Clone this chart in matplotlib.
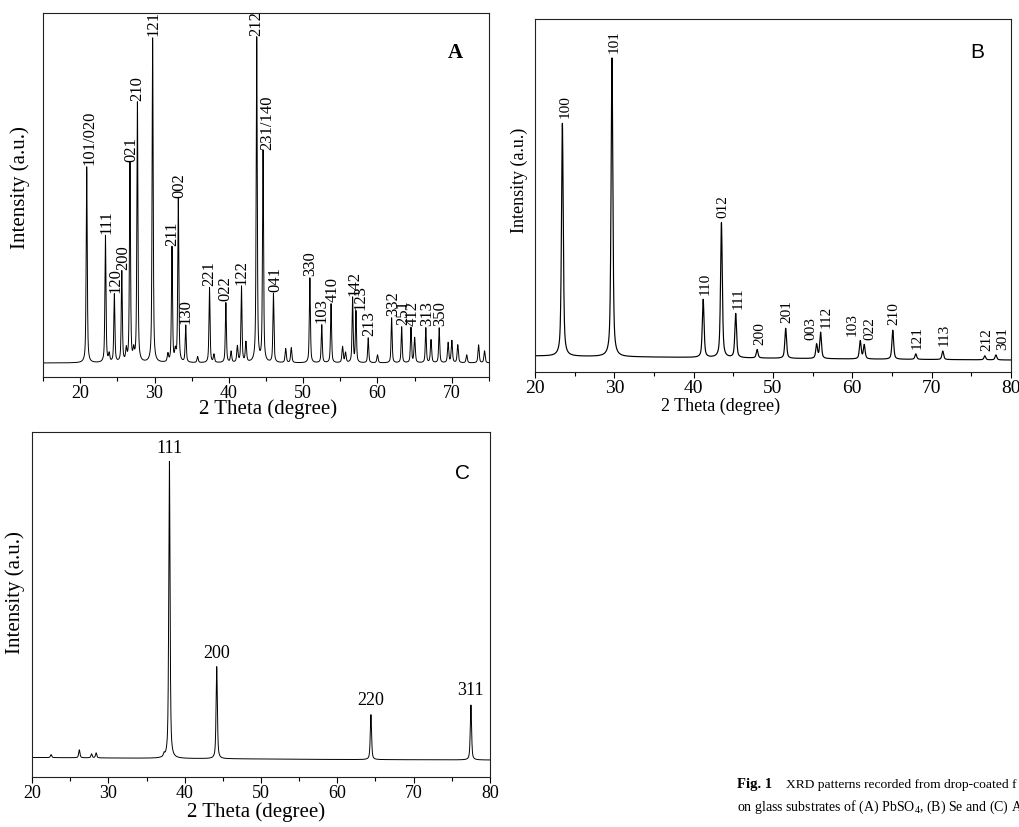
import numpy as np
import matplotlib
matplotlib.use("Agg")
import matplotlib.pyplot as plt
from matplotlib.ticker import MultipleLocator

plt.rcParams['font.family'] = ['Liberation Serif', 'DejaVu Serif']
plt.rcParams['mathtext.fontset'] = 'custom'
plt.rcParams['mathtext.rm'] = 'Liberation Serif'
plt.rcParams['mathtext.bf'] = 'Liberation Serif:bold'

# ---------------- Panel A : PbSO4 ----------------
a_pos = [20.88, 23.4, 24.6, 25.6, 26.7, 27.7, 29.75, 32.35, 33.2, 34.2, 37.4, 39.6,
         41.7, 43.75, 44.6, 46.0, 50.9, 52.5, 53.75, 56.65, 57.1, 58.75, 61.9,
         63.25, 64.5, 66.5, 68.3]
a_height = [196, 127, 68, 91, 199, 260, 325, 115, 163, 37, 75, 60,
            76, 325, 211, 69, 85, 38, 59, 65, 51, 25, 45,
            36, 35, 35, 35]
a_labels = ['101/020', '111', '120', '200', '021', '210', '121', '211', '002', '130',
            '221', '022', '122', '212', '231/140', '041', '330', '103', '410', '142',
            '123', '213', '332', '251', '412', '313', '350']
a_minor_pos = [23.9, 26.2, 27.2, 31.8, 32.8, 35.8, 38.0, 40.3, 41.15, 42.3, 47.65,
               48.4, 55.3, 55.7, 60.0, 65.0, 67.2, 69.5, 70.0, 70.8, 72.0, 73.6, 74.4]
a_minor_height = [8, 12, 10, 8, 10, 6, 8, 11, 16, 20, 14,
                  15, 16, 10, 8, 25, 23, 20, 22, 18, 8, 18, 12]

# ---------------- Panel B : Se ----------------
b_pos = [23.45, 29.7, 41.2, 43.5, 45.3, 48.0, 51.6, 55.5, 56.0, 61.0, 61.5, 65.1,
         68.0, 71.4, 76.7, 78.1]
b_height = [233, 299, 58, 135, 44, 8.5, 30, 14, 26, 18, 14, 29, 5.5, 8.5, 4, 5]
b_labels = ['100', '101', '110', '012', '111', '200', '201', '003', '112', '103',
            '022', '210', '121', '113', '212', '301']
b_base_x = [20, 40, 60, 80]
b_base_y = [4, 2.5, 1, 0]

# ---------------- Panel C ----------------
c_pos = [38.0, 44.2, 64.4, 77.5]
c_height = [297, 92, 45, 55]
c_labels = ['111', '200', '220', '311']
c_minor_pos = [22.5, 26.2, 27.8, 28.4, 37.3]
c_minor_height = [3, 8, 4, 5, 3]
c_base_x = [20, 40, 60, 80]
c_base_y = [2.5, 1.5, 0.5, 0]


def pattern(x, pos, hgt, fwhm, eta=0.6):
    y = np.zeros_like(x)
    for p, h in zip(pos, hgt):
        d = (x - p) / (fwhm / 2.0)
        y += h * (eta / (1 + d ** 2) + (1 - eta) * np.exp(-np.log(2) * d ** 2))
    return y


W, H = 1020, 827
fig = plt.figure(figsize=(W / 100, H / 100), dpi=100)


def axes_px(l, t, r, b):
    return fig.add_axes([l / W, 1 - b / H, (r - l) / W, (b - t) / H])


def style(ax, xlim, ylim, tick_fs, tick_weight='normal'):
    ax.set_xlim(*xlim)
    ax.set_ylim(*ylim)
    ax.set_yticks([])
    ax.xaxis.set_major_locator(MultipleLocator(10))
    ax.xaxis.set_minor_locator(MultipleLocator(5))
    ax.tick_params(axis='x', which='major', direction='out', length=4, width=0.8,
                   pad=2, labelsize=tick_fs)
    ax.tick_params(axis='x', which='minor', direction='out', length=3, width=0.8)
    for lab in ax.get_xticklabels():
        lab.set_fontweight(tick_weight)
    for s in ax.spines.values():
        s.set_linewidth(0.8)
        s.set_color('#222222')


# ---- A ----
axA = axes_px(43, 13, 489, 377)
xA = np.linspace(15, 75, 7000)
yA = pattern(xA, a_pos, a_height, 0.17) + pattern(xA, a_minor_pos, a_minor_height, 0.2)
axA.plot(xA, yA, color='black', lw=0.7)
style(axA, (15, 75), (-14, 350), 13)
a_dx = [0.35, 0.1, 0.1, 0.2, 0.15, 0.0, 0.1, 0.0, 0.1, 0.0, 0.0, 0.0, 0.0, 0.0,
        0.55, 0.2, 0.0, 0.0, 0.2, 0.2, 0.65, 0.2, 0.2, 0.2, 0.2, 0.2, 0.2]
for p, h, t, dx in zip(a_pos, a_height, a_labels, a_dx):
    axA.text(p + dx, h + 2, t, rotation=90, ha='center', va='bottom', fontsize=12)
axA.text(0.924, 0.89, 'A', transform=axA.transAxes, fontsize=15, fontweight='bold',
         ha='center', va='center')
axA.set_xlabel('2 Theta (degree)', fontsize=15)
axA.xaxis.set_label_coords(0.504, -0.062)
axA.set_ylabel('Intensity (a.u.)', fontsize=15)
axA.yaxis.set_label_coords(-0.029, 0.52)

# ---- B ----
axB = axes_px(535, 19, 1011, 372)
xB = np.linspace(20, 80, 7000)
yB = pattern(xB, b_pos, b_height, 0.26) + np.interp(xB, b_base_x, b_base_y)
axB.plot(xB, yB, color='black', lw=0.85)
style(axB, (20, 80), (-12, 341), 14)
b_dx = [0.33, 0.3, 0.3, 0.2, 0.3, 0.33, 0.2, -0.75, 0.68, -1.0, 0.76, 0.1, 0.2,
        0.2, 0.2, 0.8]
for p, h, t, dx in zip(b_pos, b_height, b_labels, b_dx):
    base = np.interp(p, b_base_x, b_base_y)
    axB.text(p + dx, h + base + 5, t, rotation=90, ha='center', va='bottom',
             fontsize=11)
axB.text(0.929, 0.904, 'B', transform=axB.transAxes, fontsize=15,
         family='Liberation Sans', ha='center', va='center')
axB.set_xlabel('2 Theta (degree)', fontsize=13)
axB.xaxis.set_label_coords(0.39, -0.072)
axB.set_ylabel('Intensity (a.u.)', fontsize=13)
axB.yaxis.set_label_coords(-0.0147, 0.544)

# ---- C ----
axC = axes_px(32, 432, 490, 777)
xC = np.linspace(20, 80, 7000)
yC = (pattern(xC, c_pos, c_height, 0.2) + pattern(xC, c_minor_pos, c_minor_height, 0.2)
      + np.interp(xC, c_base_x, c_base_y))
axC.plot(xC, yC, color='black', lw=0.7)
style(axC, (20, 80), (-17, 328), 13)
for p, h, t in zip(c_pos, c_height, c_labels):
    axC.text(p, h + 6, t, ha='center', va='bottom', fontsize=13)
axC.text(0.939, 0.881, 'C', transform=axC.transAxes, fontsize=15,
         family='Liberation Sans', ha='center', va='center')
axC.set_xlabel('2 Theta (degree)', fontsize=15)
axC.xaxis.set_label_coords(0.489, -0.072)
axC.set_ylabel('Intensity (a.u.)', fontsize=15)
axC.yaxis.set_label_coords(-0.0153, 0.536)

# ---- caption ----
renderer = fig.canvas.get_renderer()
cap_fs = 10
x0 = 737 / W
t1 = fig.text(x0, 1 - 788 / H, 'Fig. 1', fontsize=10.5, fontweight='bold')
bb = t1.get_window_extent(renderer)
fig.text((bb.x1 + 14) / W, 1 - 788 / H, 'XRD patterns recorded from drop-coated f',
         fontsize=9.7)
fig.text(x0, 1 - 811 / H, 'on glass substrates of (A) PbSO$_4$, (B) Se and (C) A',
         fontsize=cap_fs)

fig.savefig('out.png', dpi=100)
